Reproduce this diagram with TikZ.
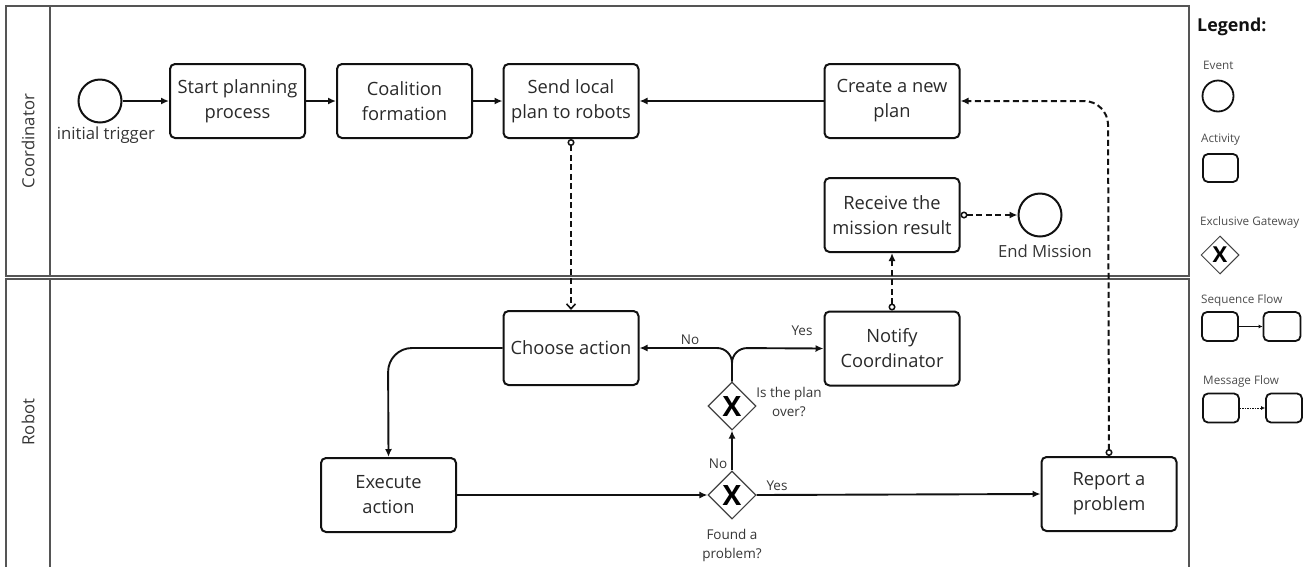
\documentclass[tikz,border=0pt]{standalone}
\usepackage{fontspec}
\setmainfont{Open Sans}
\usetikzlibrary{shapes.geometric,arrows.meta}
\definecolor{ink}{HTML}{111111}
\definecolor{poolc}{HTML}{555555}
\tikzset{
  task/.style={draw=ink,rounded corners=5pt,line width=2pt,minimum width=135pt,minimum height=74pt,align=center,inner sep=0pt,text=ink!90,font=\fontsize{18.3}{25}\selectfont},
  event/.style={circle,draw=ink,line width=2pt,minimum size=43pt,inner sep=0pt},
  gw/.style={diamond,draw=ink!80,line width=1.1pt,minimum width=48pt,minimum height=48pt,inner sep=0pt,font=\bfseries\fontsize{28}{28}\selectfont},
  seq/.style={draw=ink,line width=1.9pt,-{Latex[length=8pt,width=7pt]}},
  msgline/.style={draw=ink,line width=2pt,dash pattern=on 6pt off 3.5pt},
  msg/.style={msgline,{Circle[open,length=7pt,width=7pt,line width=1.5pt,fill=white]}-{Latex[length=8pt,width=7pt]}},
  lbl/.style={text=ink!85,font=\fontsize{13.5}{19}\selectfont,inner sep=0pt},
  lbig/.style={text=ink!85,font=\fontsize{16.7}{20}\selectfont,inner sep=0pt},
  lsmall/.style={text=ink!75,font=\fontsize{11.7}{13}\selectfont,inner sep=0pt,anchor=west},
  pool/.style={draw=poolc,line width=1.2pt},
  lbox/.style={draw=ink,rounded corners=5pt,line width=1.8pt},
}
\begin{document}
\begin{tikzpicture}[x=1pt,y=-1pt]
\useasboundingbox (0,0) rectangle (1313,566);
% pool and lanes
\draw[pool] (6,6) rectangle (1189,276);
\draw[pool] (50,6) -- (50,276);
\draw[pool] (6,580) -- (6,279) -- (1189,279) -- (1189,580);
\draw[pool] (50,279) -- (50,580);
\node[lbig,rotate=90] (lc) at (28,141) {Coordinator};
\node[lbig,rotate=90] (lr) at (28,422) {Robot};

% coordinator lane
\node[event] (start) at (100,101) {};
\node[lbig,anchor=north] (starttxt) at (106,127) {initial trigger};
\node[task] (sp) at (237.5,101) {Start planning\\process};
\node[task] (cf) at (404.5,101) {Coalition\\formation};
\node[task] (send) at (571,101) {Send local\\plan to robots};
\node[task] (create) at (892,101) {Create a new\\plan};
\node[task] (receive) at (892,215) {Receive the\\mission result};
\node[event] (endev) at (1040,215) {};
\node[lbig,anchor=north] (endtxt) at (1045,245) {End Mission};

% robot lane
\node[task] (choose) at (571,348) {Choose action};
\node[task] (exec) at (388.5,495) {Execute\\action};
\node[task] (notify) at (892,348.5) {Notify\\Coordinator};
\node[task] (report) at (1109,494) {Report a\\problem};
\node[gw] (g1) at (732,406) {X};
\node[gw] (g2) at (732,495) {X};
\node[lbl,align=center] (g1txt) at (789,402) {Is the plan\\over?};
\node[lbl,align=center] (g2txt) at (732,545) {Found a\\problem?};

% sequence flows
\draw[seq] (start) -- (sp);
\draw[seq] (sp) -- (cf);
\draw[seq] (cf) -- (send);
\draw[seq] (create) -- (send);
\draw[seq,rounded corners=24pt] (choose.west) -- (388,348) -- (exec.north);
\draw[seq] (exec.east) -- (g2.west);
\draw[seq] (g2.east) -- (report.west);
\node[lbl] (yes2) at (777,486) {Yes};
\draw[seq] (g2.north) -- (g1.south);
\node[lbl] (no2) at (718,464) {No};
\draw[seq,rounded corners=15pt] (g1.north) -- (732,348) -- (choose.east);
\draw[seq,rounded corners=15pt] (g1.north) -- (732,348) -- (notify.west);
\node[lbl] (no1) at (690,340) {No};
\node[lbl] (yes1) at (802,331) {Yes};

% message flows
\draw[msgline,{Circle[open,length=7pt,width=7pt,line width=1.5pt,fill=white]}-{Straight Barb[length=5pt,width=9pt,line width=1.6pt]}] (send.south) -- (choose.north);
\draw[msg] (notify.north) -- (notify.north |- receive.south);
\draw[msg] (receive.east) -- (endev.west);
\draw[msg,rounded corners=24pt] (report.north) -- (1108,101) -- (create.east);

% legend
\node[text=ink,font=\bfseries\fontsize{17.8}{20}\selectfont,anchor=west,inner sep=0pt] (legend) at (1197,27) {Legend:};
\node[lsmall] (levt) at (1203,65) {Event};
\node[circle,draw=ink,line width=1.8pt,minimum size=31pt,inner sep=0pt] (lcirc) at (1218,96) {};
\node[lsmall] (lact) at (1201,140) {Activity};
\node[lbox,minimum width=35pt,minimum height=28pt,inner sep=0pt] (lbx) at (1220.5,168) {};
\node[lsmall] (lgw) at (1200,222) {Exclusive Gateway};
\node[diamond,draw=ink!80,line width=1pt,minimum width=38pt,minimum height=38pt,inner sep=0pt,font=\bfseries\fontsize{22}{22}\selectfont] (ldia) at (1220,255) {X};
\node[lsmall] (lsf) at (1201,300) {Sequence Flow};
\node[lbox,minimum width=36pt,minimum height=29pt,inner sep=0pt] (ls1) at (1220,326.5) {};
\node[lbox,minimum width=37pt,minimum height=29pt,inner sep=0pt] (ls2) at (1282,326.5) {};
\draw[draw=ink,line width=1pt,-{Latex[length=4pt,width=4pt]}] (ls1.east) -- (ls2.west);
\node[lsmall] (lmf) at (1203,381) {Message Flow};
\node[lbox,minimum width=36pt,minimum height=29pt,inner sep=0pt] (lm1) at (1221,408) {};
\node[lbox,minimum width=36pt,minimum height=29pt,inner sep=0pt] (lm2) at (1284,408) {};
\draw[draw=ink,line width=1pt,dash pattern=on 1.5pt off 1pt,-{Latex[length=4pt,width=4pt]}] (lm1.east) -- (lm2.west);
\end{tikzpicture}
\end{document}
